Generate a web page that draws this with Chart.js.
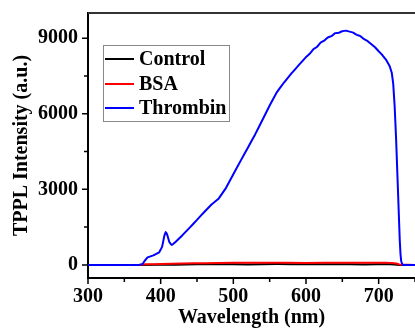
<!DOCTYPE html>
<html>
<head>
<meta charset="utf-8">
<script src="https://cdn.jsdelivr.net/npm/chart.js@4.4.1/dist/chart.umd.min.js"></script>
<style>
  html, body { margin: 0; padding: 0; background: #fff; }
  #wrap { width: 415px; height: 328px; position: relative; }
</style>
</head>
<body>
<div id="wrap"><canvas id="tppl"></canvas></div>
<script>
// series labels + colours
const seriesNames = ["Control", "BSA", "Thrombin"];
const seriesColors = ["#000000", "#ff0000", "#0000ff"];

// Control: flat baseline
const controlX = [300, 372, 420, 450, 480, 520, 560, 600, 640, 680, 715, 728, 750];
const controlY = [0, 0, 10, 25, 30, 20, 35, 25, 30, 20, 30, 0, 0];

// BSA: slightly above zero
const bsaX = [300, 372, 380, 400, 430, 460, 500, 550, 600, 650, 700, 718, 724, 729, 750];
const bsaY = [0, 0, 25, 35, 55, 70, 85, 85, 80, 85, 85, 80, 60, 10, 0];

// Thrombin spectrum
const thrombinX = [300, 370, 375, 378, 382, 390, 398, 402, 405, 407, 409, 412, 415, 420, 430, 440,
  450, 460, 470, 480, 490, 500, 510, 520, 530, 540, 550, 560, 570, 580, 590, 600, 605, 610, 615,
  620, 625, 630, 635, 640, 645, 650, 655, 660, 665, 670, 675, 680, 685, 690, 695, 700, 705, 710,
  715, 718, 720, 722, 724, 725, 726, 727, 728, 729, 730, 731, 733, 750];
const thrombinY = [0, 0, 30, 160, 300, 380, 500, 720, 1150, 1310, 1200, 900, 790, 900, 1180, 1480,
  1790, 2100, 2400, 2640, 3060, 3600, 4130, 4650, 5180, 5750, 6330, 6860, 7250, 7600, 7930, 8250,
  8380, 8560, 8650, 8820, 8900, 9030, 9080, 9200, 9210, 9280, 9300, 9260, 9220, 9130, 9080, 8960,
  8880, 8760, 8640, 8480, 8330, 8150, 7900, 7630, 7200, 6300, 5000, 4200, 3400, 2600, 1800, 1000,
  450, 150, 0, 0];

const xTicks = [300, 400, 500, 600, 700];
const yTicks = [0, 3000, 6000, 9000];

const FONT = "'Liberation Serif', 'Times New Roman', serif";

function pts(xs, ys) {
  return xs.map((x, i) => ({ x, y: ys[i] }));
}

// ticks (major + minor) and top frame line
const frame = {
  id: "frame",
  afterDraw(chart) {
    const { ctx, chartArea: a, scales } = chart;
    ctx.save();
    ctx.strokeStyle = "#000";
    ctx.lineWidth = 1.5;
    ctx.beginPath();
    for (let v = 300; v <= 750; v += 50) {
      const px = scales.x.getPixelForValue(v);
      const len = xTicks.includes(v) ? 6 : 4;
      ctx.moveTo(px, a.bottom);
      ctx.lineTo(px, a.bottom + len);
    }
    for (let v = 0; v <= 9000; v += 1500) {
      const py = scales.y.getPixelForValue(v);
      const len = yTicks.includes(v) ? 6 : 4;
      ctx.moveTo(a.left, py);
      ctx.lineTo(a.left - len, py);
    }
    ctx.stroke();
    ctx.strokeStyle = "#333";
    ctx.lineWidth = 2;
    ctx.beginPath();
    ctx.moveTo(a.left, a.top);
    ctx.lineTo(a.right, a.top);
    ctx.stroke();
    ctx.restore();
  }
};

// legend box inside the plot
const boxLegend = {
  id: "boxLegend",
  afterDraw(chart) {
    const ctx = chart.ctx;
    ctx.save();
    ctx.fillStyle = "#fff";
    ctx.fillRect(103, 45, 126, 76);
    ctx.strokeStyle = "#888";
    ctx.lineWidth = 1;
    ctx.strokeRect(103.5, 45.5, 126, 76);
    const rows = [59, 84, 108];
    ctx.font = "bold 20px " + FONT;
    ctx.textBaseline = "middle";
    chart.data.datasets.forEach((ds, i) => {
      ctx.strokeStyle = ds.borderColor;
      ctx.lineWidth = 2;
      ctx.beginPath();
      ctx.moveTo(105, rows[i]);
      ctx.lineTo(134, rows[i]);
      ctx.stroke();
      ctx.fillStyle = "#000";
      ctx.fillText(ds.label, 139, rows[i] + 1);
    });
    ctx.restore();
  }
};

new Chart(document.getElementById("tppl"), {
  type: "line",
  data: {
    datasets: [
      { label: seriesNames[0], data: pts(controlX, controlY), borderColor: seriesColors[0], order: 3 },
      { label: seriesNames[1], data: pts(bsaX, bsaY), borderColor: seriesColors[1], order: 2 },
      { label: seriesNames[2], data: pts(thrombinX, thrombinY), borderColor: seriesColors[2], order: 1 }
    ]
  },
  options: {
    responsive: true,
    maintainAspectRatio: false,
    animation: false,
    elements: {
      point: { radius: 0 },
      // tiny tension keeps Chart.js off its per-pixel fast path (it left spikes on the steep drop)
      line: { borderWidth: 2, tension: 0.01, borderJoinStyle: "round", borderCapStyle: "round" }
    },
    layout: { padding: { top: 13, right: 0, left: 0, bottom: 0 } },
    plugins: { legend: { display: false }, tooltip: { enabled: false } },
    scales: {
      x: {
        type: "linear",
        min: 300,
        max: 750,
        afterFit: s => { s.height = 50; s.paddingLeft = 0; s.paddingRight = 0; },
        afterBuildTicks: s => { s.ticks = xTicks.concat([750]).map(v => ({ value: v })); },
        grid: { display: false, drawTicks: false },
        border: { display: true, color: "#000", width: 2 },
        ticks: {
          autoSkip: false,
          maxRotation: 0,
          padding: 7,
          color: "#000",
          font: { family: FONT, size: 20, weight: "bold" },
          callback: v => (xTicks.includes(v) ? String(v) : "")
        },
        title: {
          display: true,
          text: "Wavelength (nm)",
          color: "#000",
          font: { family: FONT, size: 20, weight: "bold", lineHeight: 1 },
          padding: { top: 0, bottom: 0 }
        }
      },
      y: {
        min: -520,
        max: 10000,
        afterFit: s => { s.width = 88; s.paddingTop = 0; s.paddingBottom = 0; },
        grid: { display: false, drawTicks: false },
        border: { display: true, color: "#000", width: 2 },
        afterBuildTicks: s => { s.ticks = yTicks.map(v => ({ value: v })); },
        ticks: {
          padding: 10,
          color: "#000",
          font: { family: FONT, size: 20, weight: "bold" },
          callback: v => String(v)
        },
        title: {
          display: true,
          text: "TPPL Intensity (a.u.)",
          color: "#000",
          font: { family: FONT, size: 20, weight: "bold" },
          padding: { top: 10, bottom: 0 }
        }
      }
    }
  },
  plugins: [frame, boxLegend]
});
</script>
</body>
</html>
